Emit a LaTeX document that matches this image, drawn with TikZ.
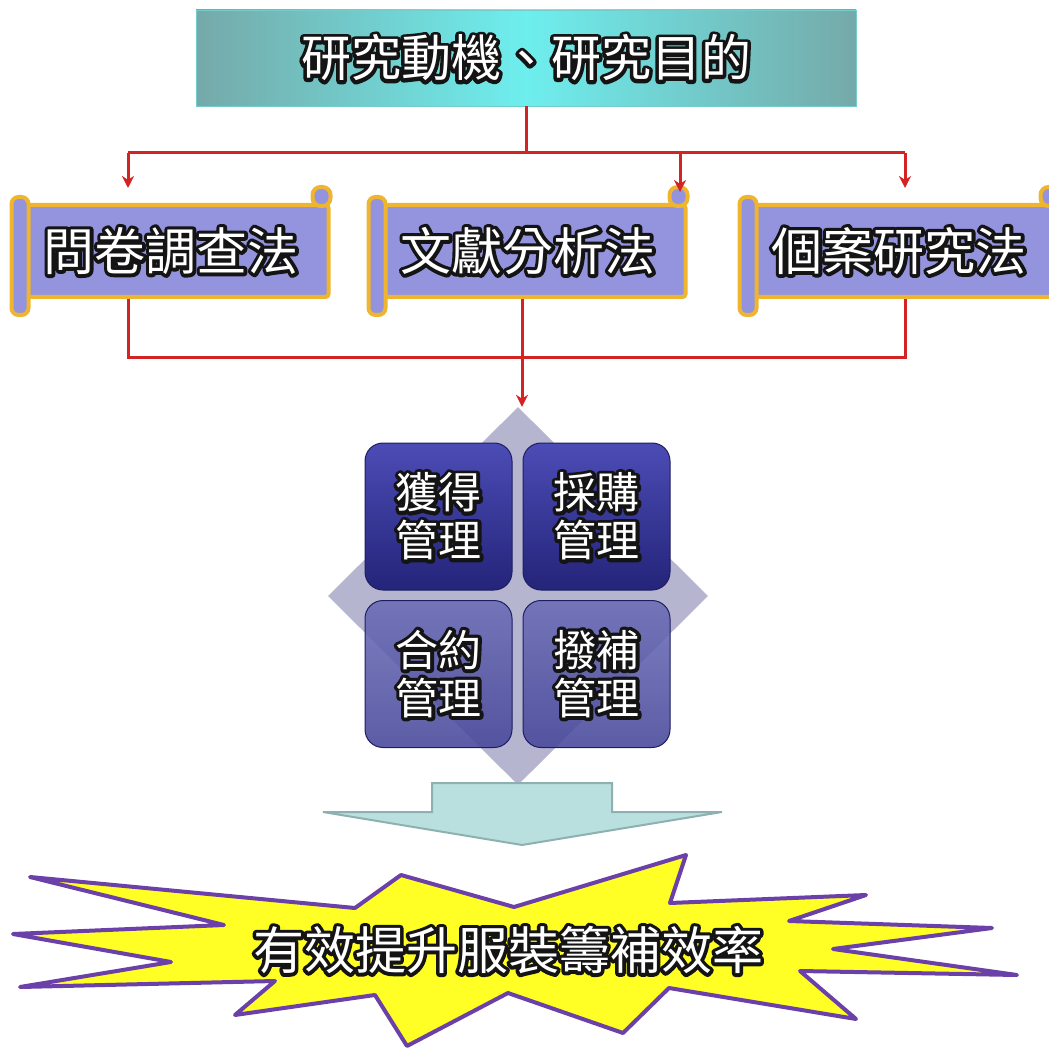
\documentclass[tikz,border=0pt]{standalone}
\usepackage{fontspec}
\setmainfont{Noto Sans CJK TC}
\usetikzlibrary{arrows.meta,shapes.geometric,calc}

\definecolor{linkred}{HTML}{D42323}
\definecolor{scrollfill}{HTML}{9494DE}
\definecolor{scrollgold}{HTML}{EFB52E}
\definecolor{tealedge}{HTML}{76A9A9}
\definecolor{tealmid}{HTML}{6EEEEE}
\definecolor{diafill}{HTML}{A2A2C4}
\definecolor{quadhi}{HTML}{4C4CB6}
\definecolor{quadlo}{HTML}{24247A}
\definecolor{quadhi2}{HTML}{6C6CB6}
\definecolor{quadlo2}{HTML}{46469A}
\definecolor{arrowfill}{HTML}{BADFDF}
\definecolor{arrowedge}{HTML}{8DB1B1}
\definecolor{burstfill}{HTML}{FFFF26}
\definecolor{burstedge}{HTML}{6B40A8}

% white letters with a dark halo: a stroked copy under the filled one
\newcommand\halo[1]{\rlap{\special{pdf:literal direct 1 Tr 0.08 G 7 w 1 j}#1\special{pdf:literal direct 0 Tr}}#1}

% roll on the left and curl on the top right of a scroll
\newcommand\scrollparts[1]{%
  \draw[scrollpart,rounded corners=7pt] ($(#1.north west)+(0,-6)$) rectangle ($(#1.south west)+(17,16)$);
  \draw[scrollpart,rounded corners=8pt] ($(#1.north east)+(-18,-16)$) rectangle ($(#1.north east)+(0,3)$);
}

\tikzset{
  topbox/.style={rectangle,minimum width=660,minimum height=96,inner sep=0pt,
    left color=tealedge,right color=tealedge,middle color=tealmid,draw=tealmid!70!gray,
    text=white,font=\fontsize{50}{55}\selectfont},
  scrollbox/.style={rectangle,minimum width=315,minimum height=92,inner sep=0pt,
    fill=scrollfill,draw=scrollgold,line width=4,rounded corners=3pt,
    text=white,font=\fontsize{51}{56}\selectfont},
  scrollpart/.style={fill=scrollfill,draw=scrollgold,line width=4},
  link/.style={draw=linkred,line width=3},
  linkarrow/.style={link,-{Stealth[length=12pt,width=12pt]}},
  quadtop/.style={rectangle,rounded corners=18pt,minimum width=147,minimum height=147,inner sep=0pt,
    top color=quadhi,bottom color=quadlo,draw=quadlo!80!black,line width=1,
    text=white,align=center,font=\fontsize{43}{48}\selectfont},
  quadlow/.style={quadtop,top color=quadhi2,bottom color=quadlo2,fill opacity=0.88,text opacity=1},
  burst/.style={fill=burstfill,draw=burstedge,line width=4,line join=round},
}

\begin{document}
\begin{tikzpicture}[x=1pt,y=1pt,yscale=-1]
\useasboundingbox (0,0) rectangle (1049,1048);
\clip (0,0) rectangle (1049,1048);

%Shape: Top box
\node (goal) [topbox] at (526,58) {\halo{研究動機、研究目的}};

%Shape: Scrolls
\node (m1) [scrollbox] at (171,251) {\halo{問卷調查法}};
\scrollparts{m1}
\node (m2) [scrollbox] at (528,251) {\halo{文獻分析法}};
\scrollparts{m2}
\node (m3) [scrollbox] at (899,251) {\halo{個案研究法}};
\scrollparts{m3}

% ends of the red links
\coordinate (hub) at (526,153);
\coordinate (in1) at (128,188);
\coordinate (in2) at (680,192);
\coordinate (in3) at (905,188);
\coordinate (sink) at (522,358);

%Shape: Diamond behind the four boxes
\node (core) [diamond,minimum width=380,minimum height=378,inner sep=0pt,fill=diafill,fill opacity=0.8] at (518,596) {};

% red links
\draw[link] (goal.south) -- (hub);
\draw[link] (in1 |- hub) -- (in3 |- hub);
\draw[linkarrow] (in1 |- hub) -- (in1);
\draw[linkarrow] (in2 |- hub) -- (in2);
\draw[linkarrow] (in3 |- hub) -- (in3);
\draw[link] (in1 |- m1.south) -- (in1 |- sink) -- (in3 |- sink) -- (in3 |- m3.south);
\draw[linkarrow] (m2.south -| sink) -- (core.north -| sink);

%Shape: Four boxes
\node (q1) [quadtop] at (438.5,516.5) {\halo{獲得}\\\halo{管理}};
\node (q2) [quadtop] at (596.5,516.5) {\halo{採購}\\\halo{管理}};
\node (q3) [quadlow] at (438.5,674) {\halo{合約}\\\halo{管理}};
\node (q4) [quadlow] at (596.5,674) {\halo{撥補}\\\halo{管理}};

%Shape: Block arrow
\draw[fill=arrowfill,draw=arrowedge,line width=2] (432,783) -- (612,783) -- (612,812) -- (722,812) -- (522,845) -- (323,812) -- (432,812) -- cycle;

%Shape: Burst
\draw[burst] (30,877) -- (355,908) -- (401,875) -- (514,907) -- (686,855) -- (670,903) -- (866,895) -- (789,921) -- (992,928) -- (833,949) -- (1017,975) -- (800,971) -- (856,1019) -- (669,988) -- (623,1033) -- (508,993) -- (407,1046) -- (375,995) -- (235,1015) -- (275,981) -- (20,987) -- (171,962) -- (13,934) -- (224,925) -- cycle;

% Text Node
\node (result) [text=white,font=\fontsize{51}{56}\selectfont] at (508,950) {\halo{有效提升服裝籌補效率}};

\end{tikzpicture}
\end{document}
